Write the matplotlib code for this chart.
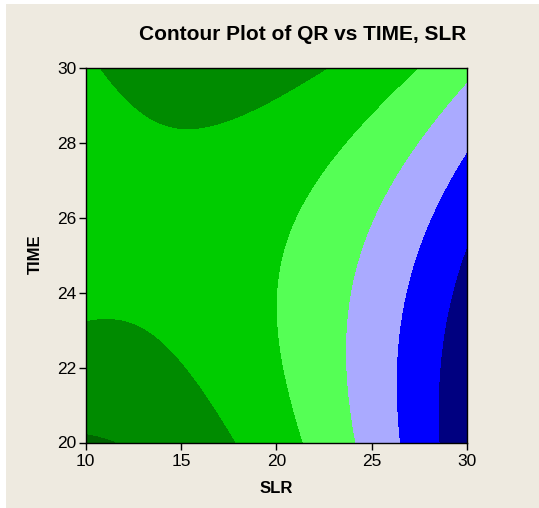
import numpy as np
import matplotlib
matplotlib.use("Agg")
import matplotlib.pyplot as plt
from matplotlib.patches import Rectangle

# fitted quadratic model for QR, coded units: u = (SLR-20)/10, v = (TIME-25)/5
# terms: const, u, v, u^2, v^2, u*v
coef = [4.0616, -1.8794, 0.4450, -1.2597, 0.8033, 1.0530]
slr_range = [10, 30]
time_range = [20, 30]
levels = [-99, 1, 2, 3, 4, 5, 6, 99]
colors = ["#000080", "#0000ff", "#aaaaff", "#55ff55", "#00cc00", "#008b00", "#006400"]
xticks = [10, 15, 20, 25, 30]
yticks = [20, 22, 24, 26, 28, 30]

W, H = 539, 508
fig = plt.figure(figsize=(W / 100, H / 100), dpi=100, facecolor="white")
fig.patches.append(Rectangle((6 / W, 0), 1, (H - 4) / H, transform=fig.transFigure,
                             facecolor="#eeeae0", edgecolor="none", zorder=-10))

ax = fig.add_axes([85.5 / W, 1 - 442.5 / H, 381.5 / W, 374.5 / H])
sx = np.linspace(slr_range[0], slr_range[1], 400)
ty = np.linspace(time_range[0], time_range[1], 400)
SX, TY = np.meshgrid(sx, ty)
u = (SX - 20) / 10
v = (TY - 25) / 5
QR = coef[0] + coef[1] * u + coef[2] * v + coef[3] * u * u + coef[4] * v * v + coef[5] * u * v
ax.contourf(SX, TY, QR, levels=levels, colors=colors)

ax.set_xlim(slr_range)
ax.set_ylim(time_range)
ax.set_xticks(xticks)
ax.set_yticks(yticks)
for s in ax.spines.values():
    s.set_color("black")
    s.set_linewidth(1)
ax.tick_params(top=False, right=False, direction="out", length=5, width=1,
               labelsize=12.5, colors="black")
ax.tick_params(axis="y", pad=1.5)
ax.tick_params(axis="x", pad=3)
for lab in ax.get_xticklabels() + ax.get_yticklabels():
    lab.set_family("Liberation Sans")

fig.text(302.5 / W, 1 - 40 / H, "Contour Plot of QR vs TIME, SLR", ha="center", va="baseline",
         fontsize=15, fontweight="bold", family="Liberation Sans")
fig.text(276 / W, 1 - 493 / H, "SLR", ha="center", va="baseline",
         fontsize=12, fontweight="bold", family="Liberation Sans")
fig.text(35 / W, 1 - 254 / H, "TIME", ha="center", va="center", rotation=90,
         fontsize=12, fontweight="bold", family="Liberation Sans")

fig.savefig("out.png", facecolor=fig.get_facecolor())
